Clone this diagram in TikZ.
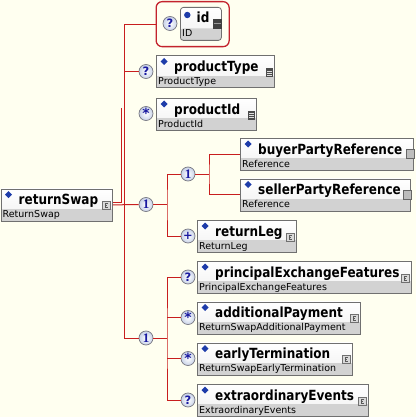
\documentclass[tikz,border=0pt]{standalone}
\usepackage{fontspec}
\setmainfont{DejaVu Sans}
\newfontfamily\oneserif{Liberation Serif}
\newfontfamily\ttlfont{DejaVu Sans}[FakeStretch=0.86]
\definecolor{bgcol}{RGB}{255,255,240}
\definecolor{linered}{RGB}{200,30,30}
\definecolor{framered}{RGB}{195,35,45}
\definecolor{boxborder}{RGB}{112,112,112}
\definecolor{subfill}{RGB}{210,210,210}
\definecolor{topfill}{RGB}{240,240,240}
\definecolor{diamblue}{RGB}{30,60,170}
\definecolor{symblue}{RGB}{25,25,160}
\definecolor{circborder}{RGB}{120,120,130}
\definecolor{circfill}{RGB}{200,210,232}
\tikzset{
 elbox/.style={draw=boxborder, line width=0.8pt, anchor=north west, inner sep=0pt, minimum height=32pt,
   path picture={\shade[top color=white, bottom color=topfill] (path picture bounding box.north west) rectangle (path picture bounding box.south east);
   \fill[subfill] ([yshift=12pt]path picture bounding box.south west) rectangle (path picture bounding box.south east);}},
 ttl/.style={anchor=base west, inner sep=0pt, font=\ttlfont\fontsize{14}{16}\selectfont\bfseries},
 subtxt/.style={anchor=base west, inner sep=0pt, font=\fontsize{9.5}{11}\selectfont},
 occ/.style={circle, draw=circborder, line width=0.7pt, inner color=white, outer color=circfill, minimum size=14pt, inner sep=0pt, text=symblue, font=\fontsize{11.5}{11.5}\selectfont\bfseries},
 occone/.style={occ, font=\oneserif\fontsize{13}{13}\selectfont\bfseries},
 occstar/.style={occ, font=\fontsize{14}{14}\selectfont\bfseries},
 conn/.style={draw=linered, line width=1pt},
}
\newcommand{\elembox}[6]{%
  \node[elbox, minimum width=#4pt] (#1) at (#2,#3) {};
  \fill[diamblue] (#2+8,#3+2.5) -- (#2+11.5,#3+6) -- (#2+8,#3+9.5) -- (#2+4.5,#3+6) -- cycle;
  \node[ttl] (#1-t) at (#2+18,#3+16) {#5};
  \node[subtxt] (#1-s) at (#2+2,#3+29) {#6};
}
\newcommand{\icoC}[2]{%
  \draw[draw=boxborder, fill=topfill!80!gray, line width=0.5pt] (#1-9.5,#2+13) rectangle (#1-2,#2+21);
  \draw[black!65, line width=0.6pt] (#1-3.8,#2+15) -- (#1-6.6,#2+15) -- (#1-6.6,#2+19) -- (#1-3.8,#2+19) (#1-6.6,#2+17) -- (#1-4.8,#2+17);
}
\newcommand{\icoL}[2]{%
  \fill[black!70] (#1-8,#2+13) rectangle (#1-1,#2+22);
  \draw[white!75!gray, line width=0.5pt] (#1-7,#2+15.5) -- (#1-2,#2+15.5) (#1-7,#2+17.5) -- (#1-2,#2+17.5) (#1-7,#2+19.5) -- (#1-2,#2+19.5);
}
\newcommand{\icoS}[2]{%
  \draw[draw=black!60, fill=subfill!90!black, line width=0.6pt] (#1-7,#2+11.5) rectangle (#1+1.5,#2+20.5);
}
\begin{document}
\begin{tikzpicture}[x=1pt,y=-1pt]
\useasboundingbox (0,0) rectangle (416,417);
\fill[bgcol] (0,0) rectangle (416,417);
% id element in red frame
\node[draw=framered, line width=1.3pt, rounded corners=6pt, minimum width=73pt, minimum height=45pt, anchor=north west, inner sep=0pt] (idf) at (155.5,1) {};
\node[elbox, rounded corners=3pt, minimum width=41pt, minimum height=33pt] (idb) at (180,7) {};
\fill[diamblue] (187.3,15) circle (3.2);
\node[ttl] (idb-t) at (196.5,22.5) {id};
\node[subtxt] (idb-s) at (182,37) {ID};
\fill[black!75] (213,19) rectangle (221.5,29);
\draw[gray!80, line width=1pt] (213.5,24) -- (221,24);
% element boxes
\elembox{pt}{156}{55.5}{118}{productType}{ProductType}\icoL{274}{55.5}
\elembox{pi}{156}{98}{100}{productId}{ProductId}\icoL{256}{98}
\elembox{rs}{0.5}{188.5}{111.5}{returnSwap}{ReturnSwap}\icoC{112}{188.5}
\elembox{bpr}{240}{138}{173}{buyerPartyReference}{Reference}\icoS{413}{138}
\elembox{spr}{240}{178.5}{170}{sellerPartyReference}{Reference}\icoS{410}{178.5}
\elembox{rl}{197}{220}{99}{returnLeg}{ReturnLeg}\icoC{296}{220}
\elembox{pef}{197}{261}{214}{principalExchangeFeatures}{PrincipalExchangeFeatures}\icoC{411}{261}
\elembox{ap}{197}{301.5}{163}{additionalPayment}{ReturnSwapAdditionalPayment}\icoC{360}{301.5}
\elembox{et}{197}{342.5}{155}{earlyTermination}{ReturnSwapEarlyTermination}\icoC{352}{342.5}
\elembox{ee}{197}{384}{171}{extraordinaryEvents}{ExtraordinaryEvents}\icoC{368}{384}
% occurrence / compositor circles
\node[occ] (cid) at (170,23.5) {?};
\node[occ] (cpt) at (146,71.5) {?};
\node[occstar] (cpi) at (146,113.5) {\raisebox{-0.32em}{*}};
\node[occone] (c1a) at (146,204.5) {1};
\node[occone] (cin) at (188,174) {1};
\node[occ] (crl) at (188,236) {+};
\node[occone] (c1b) at (146,338) {1};
\node[occ] (cpef) at (188,277) {?};
\node[occstar] (cap) at (188,317.5) {\raisebox{-0.32em}{*}};
\node[occstar] (cet) at (188,358.5) {\raisebox{-0.32em}{*}};
\node[occ] (cee) at (188,400) {?};
% spines
\coordinate (spine) at (124,0);
\coordinate (spineA) at (167,0);
\coordinate (spineB) at (209,0);
\coordinate (lTop) at (121,108);
% connectors
\draw[conn] (idf.west) -| (spine |- c1b) -- (c1b.west);
\draw[conn] (cpt.west) -- (cpt.west -| spine);
\draw[conn] (rs.east) -- (c1a.west);
\draw[conn] ([yshift=2.2pt]rs.east) -| (lTop);
\draw[conn] (c1a.east) -- (c1a.east -| spineA);
\draw[conn] (cin.west) -| (spineA |- c1a) |- (crl.west);
\draw[conn] (cin.east) -- (cin.east -| spineB);
\draw[conn] (bpr.west) -| (spineB |- cin) |- (spr.west);
\draw[conn] (c1b.east) -- (c1b.east -| spineA);
\draw[conn] (cpef.west) -| (spineA |- c1b) |- (cee.west);
\draw[conn] (cap.west) -- (cap.west -| spineA);
\draw[conn] (cet.west) -- (cet.west -| spineA);
\end{tikzpicture}
\end{document}
